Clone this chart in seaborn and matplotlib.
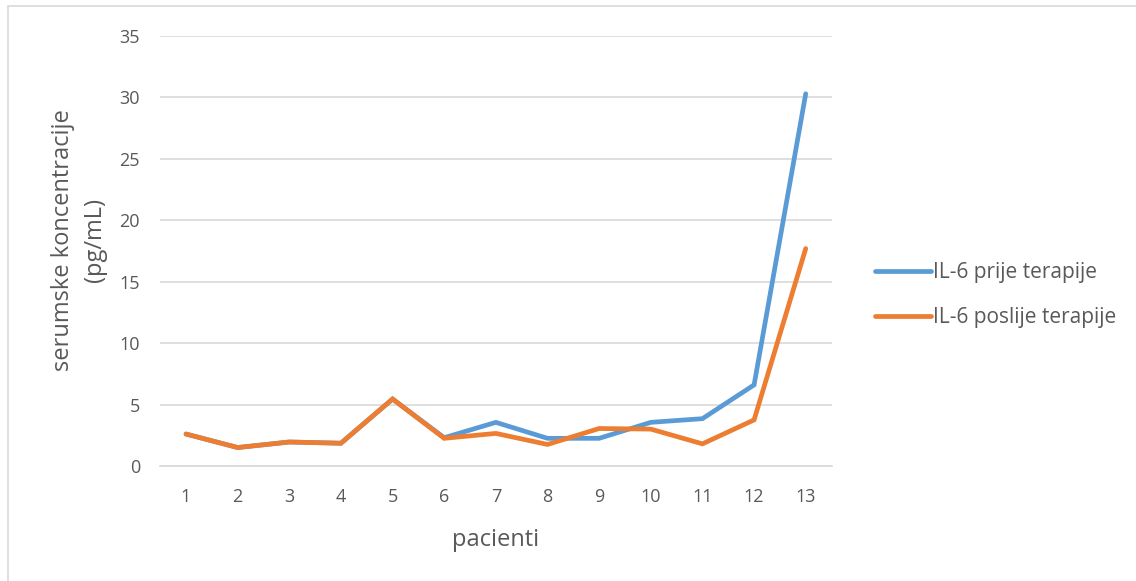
import pandas as pd
import matplotlib.pyplot as plt
import matplotlib.patches as mpatches
import seaborn as sns

# Data
patients = list(range(1, 14))
il6_before = [2.6, 1.5, 1.95, 1.85, 5.45, 2.3, 3.55, 2.25, 2.25, 3.55, 3.85, 6.6, 30.3]
il6_after = [2.6, 1.5, 1.95, 1.85, 5.45, 2.25, 2.65, 1.75, 3.05, 3.0, 1.8, 3.75, 17.7]
series_names = ["IL-6 prije terapije", "IL-6 poslije terapije"]
y_ticks = [0, 5, 10, 15, 20, 25, 30, 35]

df = pd.DataFrame({
    "pacijent": patients * 2,
    "vrijednost": il6_before + il6_after,
    "serija": [series_names[0]] * len(patients) + [series_names[1]] * len(patients),
})

sns.set_theme(style="white")
plt.rcParams["font.family"] = ["Open Sans", "DejaVu Sans"]
text_color = "#595959"
grid_color = "#d9d9d9"

fig = plt.figure(figsize=(11.36, 5.81), dpi=100)
ax = fig.add_axes([0.141, 0.198, 0.591, 0.740])

sns.lineplot(data=df, x="pacijent", y="vrijednost", hue="serija",
             palette=["#5B9BD5", "#ED7D31"], linewidth=3.4, ax=ax,
             legend=False, solid_capstyle="round", solid_joinstyle="miter")

ax.set_xlim(0.5, 13.5)
ax.set_ylim(0, 35)
ax.set_xticks(patients)
ax.set_yticks(y_ticks)
ax.grid(axis="y", color=grid_color, linewidth=1.2)
ax.set_axisbelow(True)
for s in ["top", "right", "left"]:
    ax.spines[s].set_visible(False)
ax.spines["bottom"].set_color(grid_color)
ax.spines["bottom"].set_linewidth(1.2)
ax.tick_params(axis="both", length=0, labelsize=13, labelcolor=text_color)
ax.tick_params(axis="x", pad=16)
ax.tick_params(axis="y", pad=14.5)

ax.set_xlabel("pacienti", fontsize=17, color=text_color, labelpad=16)
ax.set_ylabel("serumske koncentracije\n(pg/mL)", fontsize=17,
              color=text_color, labelpad=9, linespacing=1.45)
ax.yaxis.label.set_y(0.525)

handles = [plt.Line2D([], [], color=c, linewidth=3.4, solid_capstyle="round")
           for c in ["#5B9BD5", "#ED7D31"]]
fig.legend(handles, series_names, loc="center left",
           bbox_to_anchor=(0.754, 0.492), frameon=False, fontsize=15,
           labelcolor=text_color, handlelength=2.65, handletextpad=0.1,
           labelspacing=1.15)

# light frame of the chart area (left and top edges visible)
fig.patches.append(mpatches.Rectangle((8 / 1136, -0.1), 1.2, 1 - 6 / 581 + 0.1,
                                      transform=fig.transFigure, fill=False,
                                      edgecolor=grid_color, linewidth=1.2))

fig.savefig("out.png", dpi=100)
